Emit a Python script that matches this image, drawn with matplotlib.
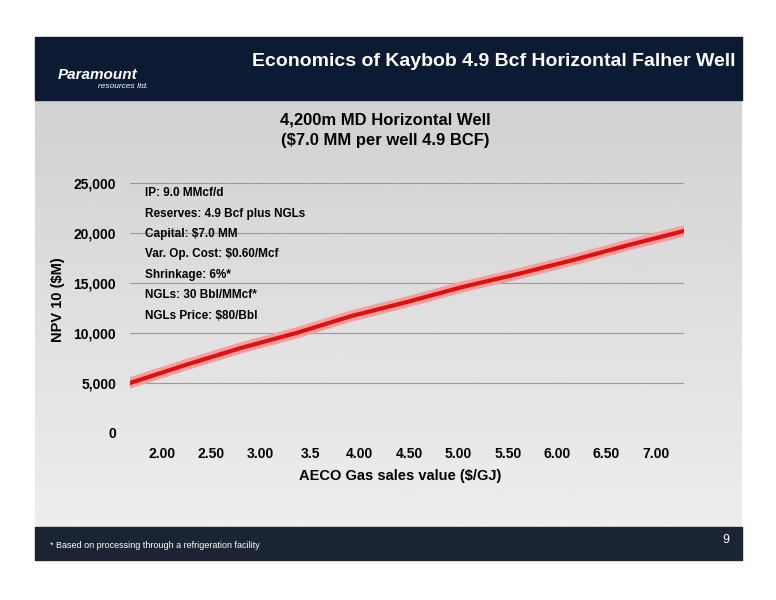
import matplotlib
matplotlib.use("Agg")
import matplotlib.pyplot as plt
import numpy as np
from matplotlib.patches import Rectangle

plt.rcParams['font.family'] = ['Liberation Sans', 'DejaVu Sans']

x_labels = ["2.00","2.50","3.00","3.5","4.00","4.50","5.00","5.50","6.00","6.50","7.00"]
npv = [5000, 6800, 8500, 10000, 11700, 13100, 14600, 15900, 17300, 18800, 20200]
notes = ["IP: 9.0 MMcf/d", "Reserves: 4.9 Bcf plus NGLs", "Capital: $7.0 MM",
         "Var. Op. Cost: $0.60/Mcf", "Shrinkage: 6%*", "NGLs: 30 Bbl/MMcf*",
         "NGLs Price: $80/Bbl"]

W, H = 776, 600
fig = plt.figure(figsize=(W/100, H/100), dpi=100)
bg = fig.add_axes([0, 0, 1, 1]); bg.set_xlim(0, W); bg.set_ylim(H, 0); bg.axis("off")
grad = np.linspace(0.82, 0.94, 256).reshape(-1, 1)
bg.imshow(grad, extent=[35, 742, 560, 100], cmap="gray", vmin=0, vmax=1, aspect="auto")
bg.add_patch(Rectangle((35, 37), 707, 63, color="#0d1a33"))
bg.add_patch(Rectangle((35, 527), 707, 33, color="#1b2433"))
bg.text(735, 62, "Economics of Kaybob 4.9 Bcf Horizontal Falher Well", color="white",
        fontsize=14, fontweight="bold", ha="right", va="center")
bg.text(58, 79, "Paramount", color="white", fontsize=11, fontweight="bold", style="italic")
bg.text(98, 88, "resources ltd.", color="white", fontsize=6, style="italic")
bg.text(50, 548, "* Based on processing through a refrigeration facility", color="white", fontsize=6.5)
bg.text(722, 543, "9", color="white", fontsize=9)
bg.text(385, 120, "4,200m MD Horizontal Well", fontsize=12, fontweight="bold", ha="center", va="center")
bg.text(385, 140, "($7.0 MM per well 4.9 BCF)", fontsize=12, fontweight="bold", ha="center", va="center")
bg.text(400, 476, "AECO Gas sales value ($/GJ)", fontsize=10.5, fontweight="bold", ha="center", va="center")
bg.text(58, 300, "NPV 10 ($M)", fontsize=10.5, fontweight="bold", ha="center", va="center", rotation=90)

ax = fig.add_axes([130/W, 1-433/H, (684-130)/W, 250/H])
ax.set_facecolor("none")
xi = np.arange(len(npv))
ax.plot(xi, npv, color="#f5a0a0", lw=8, solid_capstyle="round")
ax.plot(xi, npv, color="#e01010", lw=3, solid_capstyle="round")
ax.set_xlim(0, 10); ax.set_ylim(0, 25000)
ax.set_yticks(range(0, 25001, 5000))
ax.set_yticklabels([f"{v:,}" for v in range(0, 25001, 5000)], fontsize=10, fontweight="bold")
ax.grid(axis="y", color="#9a9a9a", lw=0.8)
tpos = [(162-130)/55.4 + i*49.4/55.4 for i in range(len(x_labels))]
ax.set_xticks(tpos); ax.set_xticklabels(x_labels, fontsize=10, fontweight="bold")
ax.tick_params(length=0, pad=10)
for s in ax.spines.values(): s.set_visible(False)
for i, t in enumerate(notes):
    fig.text(145/W, 1-(193 + i*20.5)/H, t, fontsize=8.5, fontweight="bold", va="center", zorder=10)
fig.savefig("out.png", dpi=100)
